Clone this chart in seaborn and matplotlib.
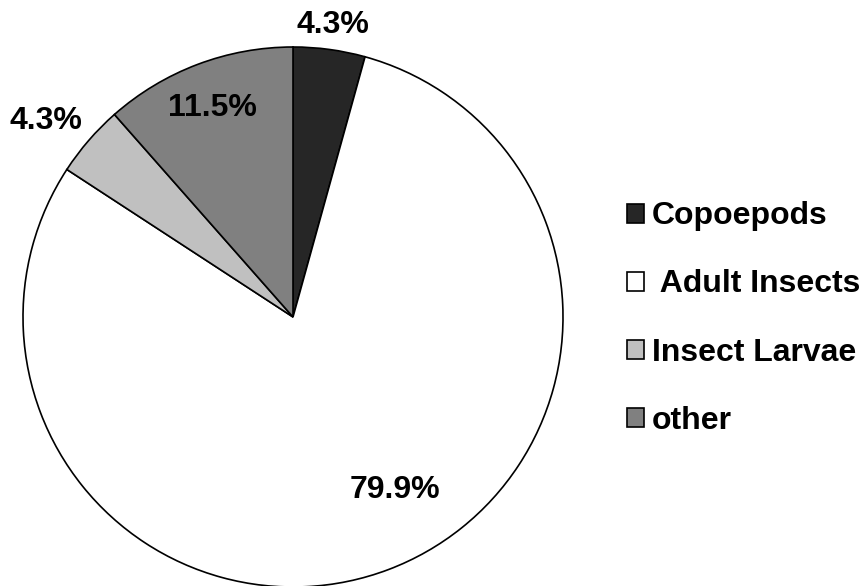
import matplotlib
matplotlib.use("Agg")
import matplotlib.pyplot as plt
import seaborn as sns
import numpy as np

categories = ["Copoepods", " Adult Insects", "Insect Larvae", "other"]
values = [4.3, 79.9, 4.3, 11.5]
pct_labels = ["4.3%", "79.9%", "4.3%", "11.5%"]
colors = ["#262626", "#ffffff", "#c0c0c0", "#808080"]
# label placement (fraction of radius, angular shift in degrees)
label_radius = [1.09, 0.745, 1.168, 0.83]
label_shift = [0.0, 9.8, 2.5, 0.5]

sns.set_theme(style="white")
plt.rcParams['font.family'] = ['Liberation Sans', 'DejaVu Sans']
plt.rcParams['text.color'] = 'black'

W, H = 865, 586
fig = plt.figure(figsize=(W / 100, H / 100), dpi=100)
ax = fig.add_axes([0, 0, 1, 1])
R = 270.0
cx, cy = 293.0, 317.0

wedges, _ = ax.pie(values, colors=colors, startangle=90, counterclock=False,
                   radius=1.0, center=(0, 0),
                   wedgeprops=dict(edgecolor="black", linewidth=1.2))
ax.set_xlim(-cx / R, (W - cx) / R)
ax.set_ylim(-(H - cy) / R, cy / R)
ax.set_aspect("equal")
ax.axis("off")

for w, lab, rf, sh in zip(wedges, pct_labels, label_radius, label_shift):
    ang = np.deg2rad((w.theta1 + w.theta2) / 2 + sh)
    ax.text(rf * np.cos(ang), rf * np.sin(ang), lab, ha="center", va="center",
            fontsize=23, fontweight="bold", color="black")

leg = fig.legend(wedges, categories, loc="center left",
                 bbox_to_anchor=(627 / W, 1 - 318.5 / H), frameon=False,
                 prop=dict(size=23, weight="bold"),
                 handlelength=0.53, handleheight=0.53, handletextpad=0.25,
                 labelspacing=1.19, borderaxespad=0, borderpad=0)
for t in leg.get_texts():
    t.set_color("black")
for p in leg.get_patches():
    p.set_linewidth(1.2)
    p.set_edgecolor("black")

fig.savefig("out.png", dpi=100)
